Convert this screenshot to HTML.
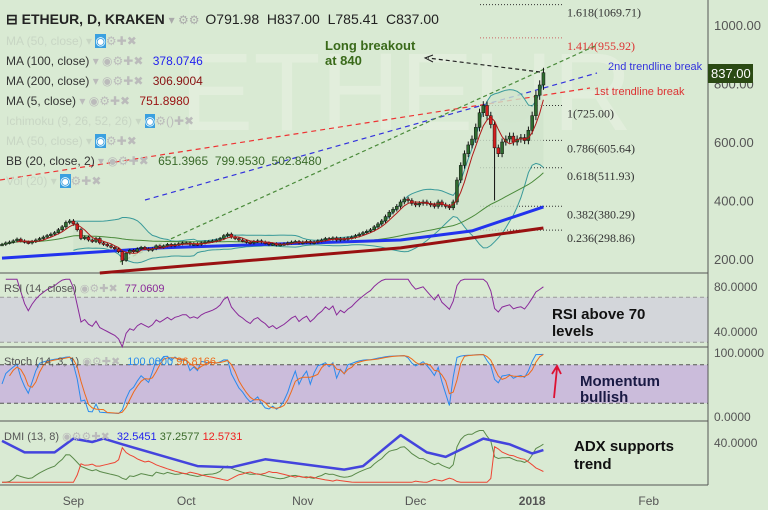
<!DOCTYPE html>
<html><head><meta charset="utf-8"><style>
body{margin:0;background:#d9ead3;}
svg{display:block;font-family:"Liberation Sans",sans-serif;}
</style></head><body>
<svg id="c" width="768" height="510" xmlns="http://www.w3.org/2000/svg">
<rect x="0" y="0" width="768" height="510" fill="#d9ead3"/>
<text x="180" y="130" font-size="110" fill="#e2eedc">ETHEUR</text>
<g id="bands"></g>
<g id="main"></g>
<g id="ann"></g>
</svg>
<script>
const closes=[250,255,258,262,268,262,258,
255,260,265,270,275,280,285,
290,300,310,325,330,320,300,
270,275,265,260,270,255,250,
245,240,235,225,195,220,230,
225,235,240,235,230,235,245,
240,245,250,245,250,252,255,
255,250,252,250,255,258,260,
262,265,270,280,285,275,270,
265,262,258,255,260,262,258,
255,250,252,248,250,252,255,
258,260,255,258,260,255,258,
262,265,270,268,272,265,270,
268,272,275,280,285,290,295,
300,310,320,330,345,360,370,
380,395,405,400,390,385,390,
395,390,385,380,395,385,380,
375,395,470,520,560,590,610,
650,700,725,690,660,580,560,
600,610,620,600,610,615,605,
640,690,760,795,837];
const lowOverride=[[131,400],[32,180]];
const ma100Days=[0,42,106,125,144], ma100Vals=[203,238,265,296,378];
const ma200Days=[26,106,144], ma200Vals=[152,238,306];
const adxDays=[0,6,14,19,24,27,32,52,61,70,91,96,106,113,118,128,135,141,144];
const adxVals=[41,31,31,43,40,43,38,19,18,25,16,19,46,31,27,43,38,30,33];
const fibLevels=[1069.71,955.92,725,605.64,511.93,380.29,298.86];
const fibNames=["1.618","1.414","1","0.786","0.618","0.382","0.236"];
const priceTicks=[1000,800,600,400,200];
const monthLabels=["Sep","Oct","Nov","Dec","2018","Feb"];
const monthDays=[19,49,80,110,141,172];

const NS="http://www.w3.org/2000/svg";
const gB=document.getElementById('bands'),gM=document.getElementById('main'),gA=document.getElementById('ann');
function el(p,t,a,txt){const e=document.createElementNS(NS,t);for(const k in a)e.setAttribute(k,a[k]);if(txt!=null)e.textContent=txt;p.appendChild(e);return e;}
const X=d=>2+3.76*d;
const Y=p=>25+(1000-p)*0.2925;
const Yr=v=>286+(80-v)*1.125;
const Ys=v=>352+(100-v)*0.64;
const Yd=v=>488-v*1.15;
const n=closes.length;
const opens=closes.map((c,i)=>i?closes[i-1]:c);
const highs=closes.map((c,i)=>Math.max(c,opens[i])+c*0.02);
const lows=closes.map((c,i)=>Math.min(c,opens[i])-c*0.02);
lowOverride.forEach(([d,v])=>lows[d]=v);
function sma(a,p){return a.map((v,i)=>i<p-1?null:a.slice(i-p+1,i+1).reduce((s,x)=>s+x,0)/p);}
function path(vals,fx,fy){let s="";vals.forEach((v,i)=>{if(v==null)return;s+=(s?"L":"M")+fx(i).toFixed(1)+","+fy(v).toFixed(1);});return s;}
function keyPath(ds,vs,fy){return ds.map((d,i)=>(i?"L":"M")+X(d).toFixed(1)+","+fy(vs[i]).toFixed(1)).join("");}

el(gB,'rect',{x:0,y:Yr(70),width:708,height:Yr(30)-Yr(70),fill:"#d3d6da"});
el(gB,'rect',{x:0,y:Ys(80),width:708,height:Ys(20)-Ys(80),fill:"#cbbcdb"});
[Yr(70),Yr(30)].forEach(y=>{const l=el(gB,'line',{x1:0,x2:708,y1:y,y2:y,stroke:"#999",'stroke-dasharray':"4,3"});});
[Ys(80),Ys(20)].forEach(y=>{const l=el(gB,'line',{x1:0,x2:708,y1:y,y2:y,stroke:"#555",'stroke-dasharray':"4,3"});});
[273,347,421,485].forEach(y=>{const l=el(gB,'line',{x1:0,x2:708,y1:y,y2:y,stroke:"#555"});});
el(gB,'line',{x1:708,x2:708,y1:0,y2:485,stroke:"#555"});

priceTicks.forEach(p=>{const t=el(gA,'text',{x:714,y:Y(p)+5,'font-size':13,fill:"#555"},p.toFixed(2));});
[[80,Yr],[40,Yr],[100,Ys],[0,Ys],[40,Yd]].forEach(([v,f])=>{const t=el(gA,'text',{x:714,y:f(v)+5,'font-size':12,fill:"#555"},v.toFixed(4));});
monthLabels.forEach((m,i)=>{const t=el(gA,'text',{x:X(monthDays[i]),y:505,'font-size':12,fill:"#555",'text-anchor':'middle','font-weight':m=="2018"?"bold":"normal"},m);});

fibLevels.forEach((f,i)=>{const y=Y(f);const l=el(gM,'line',{x1:480,x2:562,y1:y,y2:y,stroke:i==1?"#c66":"#333",'stroke-dasharray':"1,2"});
const t=el(gM,'text',{x:567,y:y+12,'font-size':12,fill:i==1?"#d33":"#333","font-family":"Liberation Serif"},fibNames[i]+"("+f.toFixed(2)+")");});

[["M0,180L590,88","#e33","red-trendline"],["M145,200L597,73","#33d","blue-trendline"],["M120,262L595,46","#4a8a3a","green-trendline"],["M540,72L428,58","#222","breakout-arrow-line"]].forEach(([d,c,nm])=>{const p=el(gM,'path',{d:d,stroke:c,fill:"none",'stroke-dasharray':nm.startsWith('green')||nm.startsWith('break')?"4,3":"5,4",'stroke-width':1.2});});
el(gM,'path',{d:"M433,55L425,58L433,62",stroke:"#222",fill:"none"});

const bbMid=sma(closes,20);
const bbSd=closes.map((c,i)=>i<19?null:Math.sqrt(closes.slice(i-19,i+1).reduce((s,x)=>s+(x-bbMid[i])**2,0)/20));
const up=bbMid.map((m,i)=>m==null?null:m+2*bbSd[i]),dn=bbMid.map((m,i)=>m==null?null:m-2*bbSd[i]);
let fill=path(up,X,Y);for(let i=n-1;i>=19;i--)fill+="L"+X(i).toFixed(1)+","+Y(dn[i]).toFixed(1);
el(gM,'path',{d:fill+"Z",fill:"#cfe3cc",opacity:0.8});
el(gM,'path',{d:path(up,X,Y),stroke:"#3a9a9a",fill:"none"});
el(gM,'path',{d:path(dn,X,Y),stroke:"#3a9a9a",fill:"none"});
const ma50=closes.map((c,i)=>{const s=closes.slice(Math.max(0,i-49),i+1);return s.reduce((a,b)=>a+b,0)/s.length;});
el(gM,'path',{d:path(ma50,X,Y),stroke:"#4a8a3a",fill:"none"});
el(gM,'path',{d:keyPath(ma100Days,ma100Vals,Y),stroke:"#2233ee",fill:"none",'stroke-width':3});
el(gM,'path',{d:keyPath(ma200Days,ma200Vals,Y),stroke:"#991111",fill:"none",'stroke-width':3});
closes.forEach((c,i)=>{const o=opens[i],x=X(i),upc=c>=o;
const w=el(gM,'line',{x1:x,x2:x,y1:Y(highs[i]),y2:Y(lows[i]),stroke:"#111"});
const r=el(gM,'rect',{x:x-1.5,y:Y(Math.max(o,c)),width:3,height:Math.max(1.5,Math.abs(Y(o)-Y(c))),fill:upc?"#2e6b2e":"#d42020",stroke:"#111",'stroke-width':0.5});});
el(gM,'path',{d:path(sma(closes,5),X,Y),stroke:"#b01818",fill:"none"});

let ag=0,al=0;const rsi=[];
for(let i=0;i<n;i++){if(i==0){rsi.push(null);continue;}const ch=closes[i]-closes[i-1],g=Math.max(ch,0),l=Math.max(-ch,0);
if(i<=14){ag+=g/14;al+=l/14;}else{ag=(ag*13+g)/14;al=(al*13+l)/14;}rsi.push(100-100/(1+ag/(al||1e-9)));}
el(gM,'path',{d:path(rsi.map(v=>v==null?null:Math.max(26,Math.min(86,v))),X,Yr),stroke:"#8a2a9a",fill:"none"});
const k=closes.map((c,i)=>{const a=Math.max(0,i-13);const hh=Math.max(...highs.slice(a,i+1)),ll=Math.min(...lows.slice(a,i+1));return 100*(c-ll)/(hh-ll);});
const dline=sma(k,3);
el(gM,'path',{d:path(k,X,Ys),stroke:"#2a8aee",fill:"none"});
el(gM,'path',{d:path(dline,X,Ys),stroke:"#ee6a1a",fill:"none"});
const pdm=[0],mdm=[0],tr=[highs[0]-lows[0]];
for(let i=1;i<n;i++){const u=highs[i]-highs[i-1],d=lows[i-1]-lows[i];pdm.push(u>d&&u>0?u:0);mdm.push(d>u&&d>0?d:0);tr.push(Math.max(highs[i]-lows[i],Math.abs(highs[i]-closes[i-1]),Math.abs(lows[i]-closes[i-1])));}
function rma(a,p){let s=a[0];return a.map((v,i)=>{s=i?(s*(p-1)+v)/p:v;return s;});}
const atr=rma(tr,13),pdi=rma(pdm,13).map((v,i)=>100*v/atr[i]),mdi=rma(mdm,13).map((v,i)=>100*v/atr[i]);
const clampD=v=>Math.max(5,Math.min(50,v));
el(gM,'path',{d:path(pdi.map(clampD),X,Yd),stroke:"#5a8a4a",fill:"none"});
el(gM,'path',{d:path(mdi.map(clampD),X,Yd),stroke:"#ee4433",fill:"none"});
el(gM,'path',{d:keyPath(adxDays,adxVals,Yd),stroke:"#4444dd",fill:"none",'stroke-width':2.5,'stroke-linejoin':'round'});

el(gA,'rect',{x:708,y:64,width:45,height:19,fill:"#2b4a14"});
el(gA,'text',{x:711,y:78,'font-size':13,fill:"#fff"},"837.00");
</script>
<div style="position:absolute;left:0;top:0;width:768px;height:510px;font-family:'Liberation Sans',sans-serif;pointer-events:none">
<div style="position:absolute;left:6px;top:11px;font-size:14px;color:#222;white-space:nowrap"><b style="font-weight:600">⊟ ETHEUR, D, KRAKEN</b> <span style="color:#aaa;font-size:12px">▾ ⚙⚙</span> <span style="margin-left:2px;font-size:14px">O791.98 &nbsp;H837.00 &nbsp;L785.41 &nbsp;C837.00</span></div>
<div style="position:absolute;left:6px;top:34px;font-size:12px;color:#c8d6c4">MA (50, close) ▾ <span style="background:#3aa0e0;color:#fff">◉</span><span style="color:#bbb">⚙✚✖</span></div>
<div style="position:absolute;left:6px;top:54px;font-size:12px;color:#333">MA (100, close) <span style="color:#bbb">▾ ◉⚙✚✖</span> <span style="color:#2222ee;margin-left:6px">378.0746</span></div>
<div style="position:absolute;left:6px;top:74px;font-size:12px;color:#333">MA (200, close) <span style="color:#bbb">▾ ◉⚙✚✖</span> <span style="color:#881111;margin-left:6px">306.9004</span></div>
<div style="position:absolute;left:6px;top:94px;font-size:12px;color:#333">MA (5, close) <span style="color:#bbb">▾ ◉⚙✚✖</span> <span style="color:#991111;margin-left:6px">751.8980</span></div>
<div style="position:absolute;left:6px;top:114px;font-size:12px;color:#c8d6c4">Ichimoku (9, 26, 52, 26) ▾ <span style="background:#3aa0e0;color:#fff">◉</span><span style="color:#bbb">⚙()✚✖</span></div>
<div style="position:absolute;left:6px;top:134px;font-size:12px;color:#c8d6c4">MA (50, close) ▾ <span style="background:#3aa0e0;color:#fff">◉</span><span style="color:#bbb">⚙✚✖</span></div>
<div style="position:absolute;left:6px;top:154px;font-size:12px;color:#333">BB (20, close, 2) <span style="color:#bbb">▾ ◉⚙✚✖</span> <span style="color:#3a6a2a;margin-left:6px">651.3965 &nbsp;799.9530 &nbsp;502.8480</span></div>
<div style="position:absolute;left:6px;top:174px;font-size:12px;color:#c8d6c4">Vol (20) ▾ <span style="background:#3aa0e0;color:#fff">◉</span><span style="color:#bbb">⚙✚✖</span></div>
<div style="position:absolute;left:325px;top:38px;font-size:13px;font-weight:bold;color:#3a6a1a;line-height:15px">Long breakout<br>at 840</div>
<div style="position:absolute;left:608px;top:61px;font-size:11px;color:#3333dd">2nd trendline break</div>
<div style="position:absolute;left:594px;top:86px;font-size:11px;color:#dd3333">1st trendline break</div>
<div style="position:absolute;left:4px;top:282px;font-size:11px;color:#555">RSI (14, close) <span style="color:#bbb">◉⚙✚✖</span> <span style="color:#8a2a9a;margin-left:4px">77.0609</span></div>
<div style="position:absolute;left:4px;top:355px;font-size:11px;color:#555">Stoch (14, 3, 1) <span style="color:#bbb">◉⚙✚✖</span> <span style="color:#2a8aee;margin-left:4px">100.0000</span> <span style="color:#ee6a1a">96.8166</span></div>
<div style="position:absolute;left:4px;top:430px;font-size:11px;color:#555">DMI (13, 8) <span style="color:#bbb">◉⚙⚙✚✖</span> <span style="color:#2222ee;margin-left:4px">32.5451</span> <span style="color:#3a6a2a">37.2577</span> <span style="color:#ee2222">12.5731</span></div>
<div style="position:absolute;left:552px;top:306px;font-size:15px;font-weight:bold;color:#111;line-height:17px">RSI above 70<br>levels</div>
<div style="position:absolute;left:580px;top:374px;font-size:15px;font-weight:bold;color:#1a1a44;line-height:16px">Momentum<br>bullish</div>
<div style="position:absolute;left:574px;top:438px;font-size:15px;font-weight:bold;color:#111;line-height:18px">ADX supports<br>trend</div>
<svg style="position:absolute;left:548px;top:362px" width="16" height="40"><path d="M6,36L9,6M4,12L9,4L13,12" stroke="#dd1133" stroke-width="1.8" fill="none"/></svg>
</div>
</body></html>
